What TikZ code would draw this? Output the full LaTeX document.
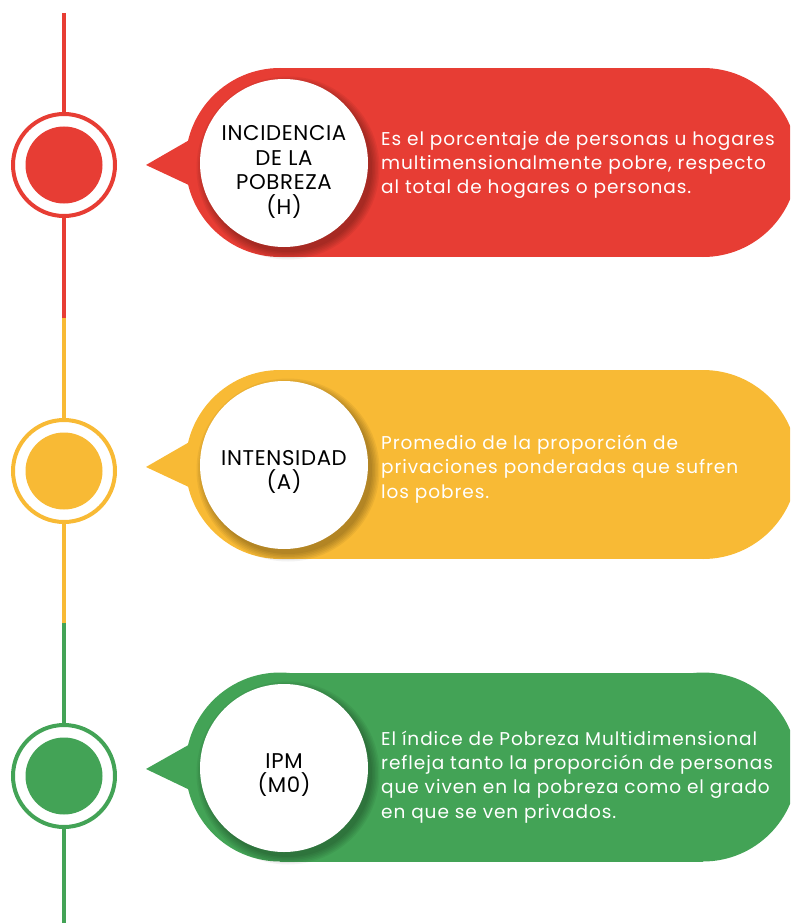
\documentclass[tikz,border=0pt]{standalone}
\usepackage{fontspec}
\setmainfont{Poppins}
\newfontfamily\lblfont{Poppins}[LetterSpace=3]
\newfontfamily\descfont{Poppins}[LetterSpace=5]
\usetikzlibrary{calc}
\definecolor{cred}{RGB}{231,61,52}
\definecolor{cyel}{RGB}{248,186,53}
\definecolor{cgrn}{RGB}{67,163,86}
\tikzset{
  tl/.style={draw=#1, line width=4pt},
  ring/.style={circle, draw=#1, line width=4pt, fill=white, minimum size=102pt, inner sep=0pt},
  dot/.style={circle, fill=#1, minimum size=77pt, inner sep=0pt},
  wc/.style={circle, fill=white, minimum size=168pt, inner sep=0pt},
  lbl/.style={align=center, text=black, inner sep=0pt,
             font=\lblfont\fontsize{21.3}{24.5}\selectfont},
  desc/.style={anchor=west, text=white, align=left, inner sep=0pt,
               font=\descfont\fontsize{18.5}{24.2}\selectfont},
}
\newcommand{\bubble}[3]{% color, cy, tip y
  \fill[#1] (280pt,-#2pt) circle[radius=94.5pt];
  \fill[#1] (280,#2-94.5) rectangle (703,#2+94.5);
  \fill[#1] (703pt,-#2pt) circle[radius=94.5pt];
  \fill[#1] (146,#3) -- (192,#2-24) -- (192,#2+24) -- cycle;
}
\newcommand{\cshadow}[1]{%
  \foreach \r in {84,85.5,...,92}
    \fill[black,opacity=0.05] ([shift={(4,5)}]#1.center) circle[radius=\r pt];
}
\begin{document}
\begin{tikzpicture}[x=1pt,y=-1pt]
\useasboundingbox (0,0) rectangle (790,923);
\clip (0,0) rectangle (790,923);

% timeline coordinates
\coordinate (t0) at (64,13);
\coordinate (m1) at (64,318);
\coordinate (m2) at (64,623);
\coordinate (t3) at (64,923);

% timeline circles
\node[ring=cred] (c1) at (64,165) {};
\node[ring=cyel] (c2) at (64,471) {};
\node[ring=cgrn] (c3) at (64,776) {};
\node[dot=cred] (c1i) at (c1) {};
\node[dot=cyel] (c2i) at (c2) {};
\node[dot=cgrn] (c3i) at (c3) {};

% timeline lines
\draw[tl=cred] (t0) -- (c1);
\draw[tl=cred] (c1) -- (m1);
\draw[tl=cyel] (m1) -- (c2);
\draw[tl=cyel] (c2) -- (m2);
\draw[tl=cgrn] (m2) -- (c3);
\draw[tl=cgrn] (c3) -- (t3);

% bubbles
\bubble{cred}{162.5}{165}
\bubble{cyel}{464.5}{467}
\bubble{cgrn}{767}{769}

% shadows and white circles
\coordinate (h1s) at (284,163);
\coordinate (h2s) at (284,465);
\coordinate (h3s) at (284,768);
\cshadow{h1s}
\cshadow{h2s}
\cshadow{h3s}
\node[wc] (h1) at (h1s) {};
\node[wc] (h2) at (h2s) {};
\node[wc] (h3) at (h3s) {};
\node[lbl] (l1) at ([yshift=-9pt]h1.center) {INCIDENCIA\\DE LA\\POBREZA\\(H)};
\node[lbl] (l2) at ([yshift=-7pt]h2.center) {INTENSIDAD\\(A)};
\node[lbl] (l3) at ([yshift=-7pt]h3.center) {IPM\\(M0)};

% descriptions
\node[desc] (d1) at (381,165) {Es el porcentaje de personas u hogares\\multimensionalmente pobre, respecto\\al total de hogares o personas.};
\node[desc] (d2) at (381,469) {Promedio de la proporción de\\privaciones ponderadas que sufren\\los pobres.};
\node[desc] (d3) at (381,777) {El índice de Pobreza Multidimensional\\refleja tanto la proporción de personas\\que viven en la pobreza como el grado\\en que se ven privados.};
\end{tikzpicture}
\end{document}
